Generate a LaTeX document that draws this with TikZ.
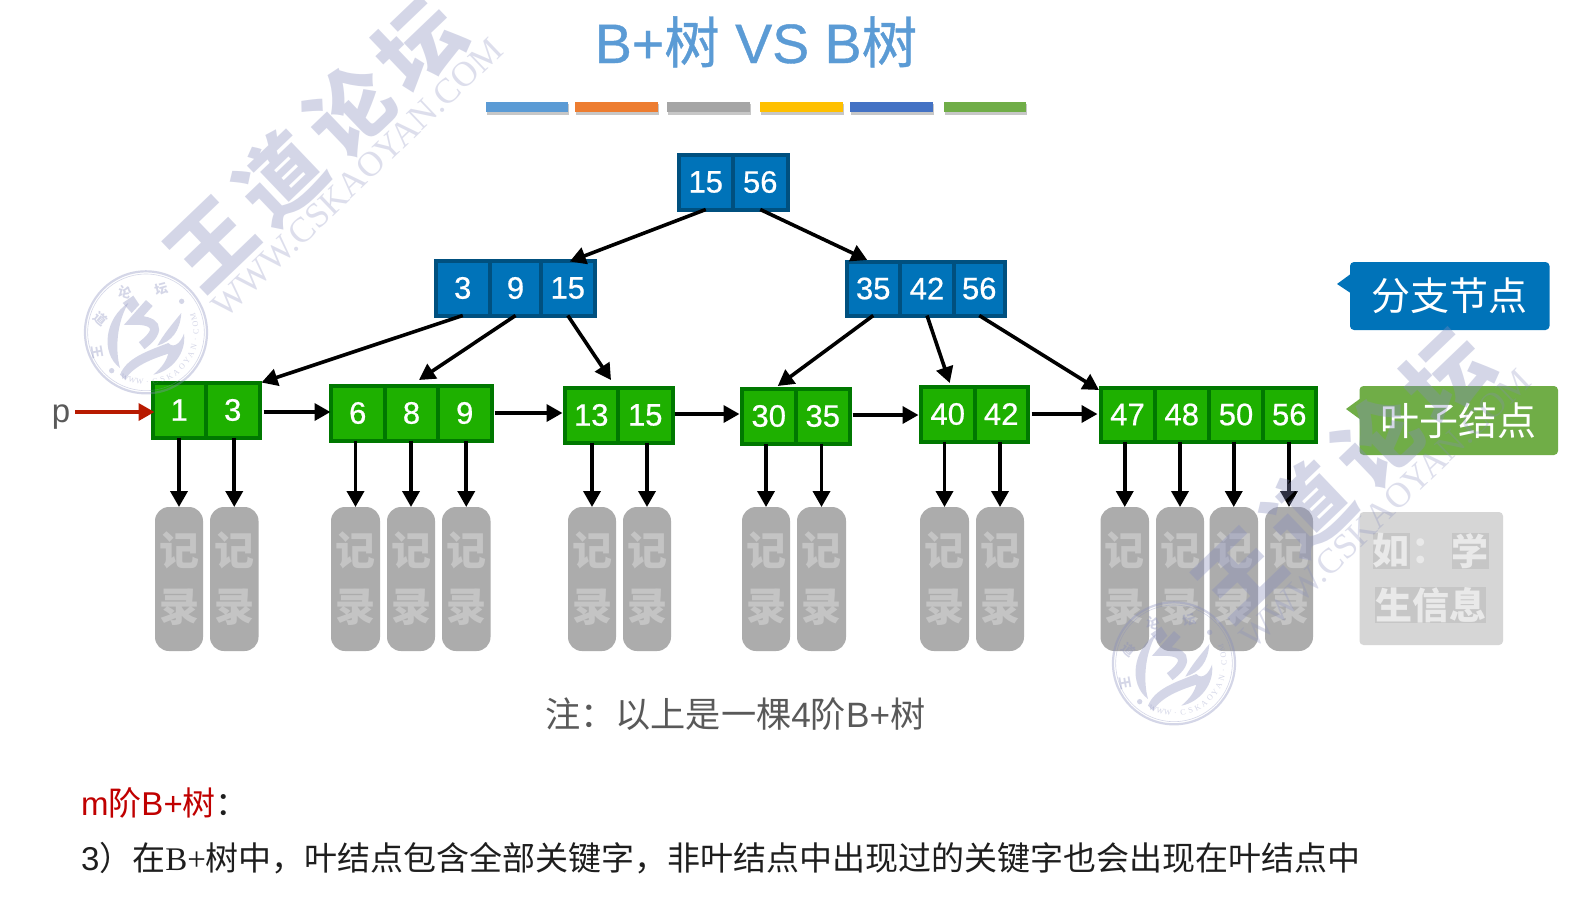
\documentclass[tikz,border=0pt]{standalone}
\usepackage{fontspec}
\setmainfont{Liberation Sans}
\newfontfamily\cjk{Noto Sans CJK SC}
\newfontfamily\lsr{Liberation Serif}
\newfontfamily\numf{Liberation Sans}[FakeBold=0.6]
\newfontfamily\ttl{Liberation Sans}[FakeBold=0.7]
\newfontfamily\ttlc{Noto Sans CJK SC}[FakeBold=0.7]
\usetikzlibrary{arrows.meta,calc}
\definecolor{blueF}{HTML}{0073B9}
\definecolor{blueD}{HTML}{00507F}
\definecolor{greenF}{HTML}{1EB000}
\definecolor{greenD}{HTML}{007800}
\definecolor{recF}{HTML}{ACACAC}
\definecolor{recT}{HTML}{C4C4C4}
\definecolor{infoF}{HTML}{D6D6D6}
\definecolor{infoP}{HTML}{C6C6C6}
\definecolor{infoT}{HTML}{E9E9E9}
\definecolor{greyT}{HTML}{595959}
\definecolor{bodyT}{HTML}{1E1E1E}
\definecolor{redT}{HTML}{C00000}
\definecolor{redA}{HTML}{B81A00}
\definecolor{wmC}{RGB}{134,140,189}
\definecolor{titleC}{RGB}{91,155,213}
\definecolor{labG}{RGB}{112,173,71}
\newcommand{\fsz}[1]{\fontsize{#1pt}{#1pt}\selectfont}
\tikzset{
  bluecell/.style={draw=blueD,fill=blueF,line width=4pt,inner sep=0pt,outer sep=0pt,text=white,font=\numf\fsz{31}},
  greencell/.style={draw=greenD,fill=greenF,line width=4pt,inner sep=0pt,outer sep=0pt,text=white,font=\numf\fsz{31}},
  recnode/.style={fill=recF,rounded corners=14pt,inner sep=0pt,outer sep=0pt,minimum height=144pt,text=recT,align=center,font=\cjk\bfseries\fsz{40}},
  arr/.style={line width=3.6pt,-{Triangle[length=16pt,width=17pt]}},
  redarr/.style={line width=3.6pt,draw=redA,-{Triangle[length=16pt,width=17pt,fill=redA]}},
  bar/.style={inner sep=0pt,outer sep=0pt,minimum height=10pt},
  barshadow/.style={fill=black!22},
  labelbox/.style={rounded corners=4pt,inner sep=0pt,outer sep=0pt,text=white,font=\cjk\fsz{39}},
  infopatch/.style={fill=infoP,inner sep=0pt,text=infoT,font=\cjk\bfseries\fsz{37}},
  plain/.style={inner sep=0pt,outer sep=0pt},
}
\newcommand{\kcell}[7]{%
  \pgfmathsetmacro\cw{#4-#3}\pgfmathsetmacro\ch{#6-#5}%
  \pgfmathsetmacro\cx{(#3+#4)/2}\pgfmathsetmacro\cy{(#5+#6)/2}%
  \node[#1,minimum width=\cw pt,minimum height=\ch pt] (#2) at (\cx,\cy) {\raisebox{-1.5pt}{#7}};}
\newcommand{\rec}[3]{%
  \pgfmathsetmacro\cw{#3-#2}\pgfmathsetmacro\cx{(#2+#3)/2}%
  \node[recnode,minimum width=\cw pt] (#1) at (\cx,579) {\raisebox{-1.5pt}{记}\\[16pt]\raisebox{-1.5pt}{录}};}
\newcommand{\wmark}[1]{%
  \node[plain,rotate=43.7,text=wmC,font=\cjk\bfseries\fsz{84}] (wmt#1) at (315,144)
    {王\hspace{12pt}道\hspace{12pt}论\hspace{12pt}坛};
  \node[plain,rotate=43.7,text=wmC,text opacity=.28,font=\lsr\fsz{35.3}] (wmw#1) at (357,178) {WWW.CSKAOYAN.COM};
  \begin{scope}[shift={(70,263)},x=0.3333pt,y=-0.3333pt]
    \draw[wmC,line width=2.2pt] (228,208) circle[radius=183pt/3];
    \draw[wmC,line width=0.6pt] (228,208) circle[radius=175pt/3];
    \fill[wmC] (175,120) .. controls (105,165) and (90,270) .. (150,315)
       .. controls (135,260) and (140,180) .. (175,120) -- cycle;
    \fill[wmC] (158,120) -- (190,98) -- (208,125) -- (185,150) -- cycle;
    \draw[wmC,line width=9pt] (238,120) -- (192,172) .. controls (250,170) and (285,195) .. (215,248);
    \fill[wmC] (334,150) .. controls (330,205) and (305,235) .. (262,248)
       .. controls (280,215) and (305,185) .. (334,150) -- cycle;
    \fill[wmC] (150,335) .. controls (170,285) and (230,265) .. (295,240)
       .. controls (312,258) and (332,240) .. (342,212)
       .. controls (350,270) and (305,325) .. (250,335)
       .. controls (280,310) and (290,290) .. (295,272)
       .. controls (240,290) and (190,310) .. (165,350) -- cycle;
    \fill[wmC] (125,323) circle[radius=8pt/3];
    \fill[wmC] (335,115) circle[radius=8pt/3];
    \node[plain,text=wmC,rotate=-80,font=\cjk\bfseries\fsz{13}] (wms1#1) at (82,268) {王};
    \node[plain,text=wmC,rotate=-40,font=\cjk\bfseries\fsz{13}] (wms2#1) at (92,168) {道};
    \node[plain,text=wmC,rotate=-15,font=\cjk\bfseries\fsz{13}] (wms3#1) at (165,88) {论};
    \node[plain,text=wmC,rotate=15,font=\cjk\bfseries\fsz{13}] (wms4#1) at (275,78) {坛};
    \foreach \c [count=\i] in {W,W,W,.,C,S,K,A,O,Y,A,N,.,C,O,M} {
      \pgfmathsetmacro\a{-115+8.87*(\i-1)}
      \pgfmathsetmacro\rt{\a+90}
      \node[plain,text=wmC,rotate=\rt,font=\lsr\fsz{8}] (wmc\i#1)
        at ({228+150*cos(\a)},{208-150*sin(\a)}) {\c};
    }
  \end{scope}}
\begin{document}
\begin{tikzpicture}[x=1pt,y=-1pt]
\useasboundingbox (0,0) rectangle (1582,900);
\fill[white] (0,0) rectangle (1582,900);
% title
\node[plain,anchor=base,text=titleC,font=\ttl\fsz{55.5}] (title) at (756,63)
  {B+{\ttlc 树} VS B{\ttlc 树}};
% colour bars
\foreach \xa/\xb/\col [count=\i] in {486/568/5B9BD5,575/658/ED7D31,667/750/A5A5A5,760/843/FFC000,850/933/4472C4,944/1026/70AD47}{
  \definecolor{barc}{HTML}{\col}
  \fill[barshadow] (\xa+1,104) rectangle (\xb+1,115);
  \pgfmathsetmacro\bw{\xb-\xa}\pgfmathsetmacro\bx{(\xa+\xb)/2}
  \node[bar,fill=barc,minimum width=\bw pt] (bar\i) at (\bx,107) {};
}
% keys
\kcell{bluecell}{r1}{678.5}{733}{154.5}{209.5}{15}
\kcell{bluecell}{r2}{733}{787.5}{154.5}{209.5}{56}
\kcell{bluecell}{la}{435.5}{490}{260.5}{315.5}{3}
\kcell{bluecell}{lb}{490}{541}{260.5}{315.5}{9}
\kcell{bluecell}{lc}{541}{594.5}{260.5}{315.5}{15}
\kcell{bluecell}{ma}{846.5}{900}{261.5}{315.5}{35}
\kcell{bluecell}{mb}{900}{954}{261.5}{315.5}{42}
\kcell{bluecell}{mc}{954}{1004.5}{261.5}{315.5}{56}
\kcell{greencell}{aa}{152.5}{206}{382.5}{437.5}{1}
\kcell{greencell}{ab}{206}{259.5}{382.5}{437.5}{3}
\kcell{greencell}{ba}{330.5}{385}{385.5}{440.5}{6}
\kcell{greencell}{bb}{385}{438}{385.5}{440.5}{8}
\kcell{greencell}{bc}{438}{491.5}{385.5}{440.5}{9}
\kcell{greencell}{ca}{564.5}{618}{387.5}{442.5}{13}
\kcell{greencell}{cb}{618}{672.5}{387.5}{442.5}{15}
\kcell{greencell}{da}{741.5}{796}{388.5}{443.5}{30}
\kcell{greencell}{db}{796}{849.5}{388.5}{443.5}{35}
\kcell{greencell}{ea}{920.5}{975}{386.5}{441.5}{40}
\kcell{greencell}{eb}{975}{1027.5}{386.5}{441.5}{42}
\kcell{greencell}{fa}{1100.5}{1154.5}{387.5}{441.5}{47}
\kcell{greencell}{fb}{1154.5}{1209}{387.5}{441.5}{48}
\kcell{greencell}{fc}{1209}{1263}{387.5}{441.5}{50}
\kcell{greencell}{fd}{1263}{1315.5}{387.5}{441.5}{56}
% records
\rec{raa}{155}{203}\rec{rab}{210}{258.5}
\rec{rba}{331}{380}\rec{rbb}{387}{435}\rec{rbc}{442}{490.5}
\rec{rca}{568}{616}\rec{rcb}{623}{671}
\rec{rda}{742}{790}\rec{rdb}{797}{846}
\rec{rea}{920}{969}\rec{reb}{976}{1024}
\rec{rfa}{1100.5}{1149}\rec{rfb}{1156}{1204}\rec{rfc}{1209.5}{1258}\rec{rfd}{1265}{1313}
% tree connectors (xshift, yshift are in page points, yshift up)
\draw[arr] (r1.south) -- ([xshift=2pt,yshift=-1pt]lc.north);
\draw[arr] (r2.south) -- ([xshift=-6pt,yshift=1.5pt]ma.north);
\draw[arr] (la.south) -- ([xshift=2pt]ab.north east);
\draw[arr] (lb.south) -- ([xshift=7.5pt,yshift=5.5pt]bb.north);
\draw[arr] (lc.south) -- ([xshift=-7pt,yshift=7.5pt]ca.north east);
\draw[arr] (ma.south) -- ([xshift=9pt,yshift=2.5pt]da.north);
\draw[arr] (mb.south) -- ([xshift=2pt,yshift=3.5pt]ea.north);
\draw[arr] (mc.south) -- ([xshift=-1.5pt,yshift=-2.5pt]fa.north west);
% leaf chain
\node[plain,anchor=base,text=greyT,font=\fsz{33}] (p) at (61,422) {p};
\draw[redarr] (p.east |- aa.west) ++(5,2) coordinate (pstart) -- ([xshift=2pt]pstart -| aa.west);
\draw[arr] ([xshift=4pt,yshift=-2pt]ab.east) -- ([yshift=-2pt]ab.east -| ba.west);
\draw[arr] ([xshift=3pt]bc.east) -- ([xshift=-2pt]bc.east -| ca.west);
\draw[arr] ([xshift=2pt,yshift=1pt]cb.east) -- ([yshift=1pt,xshift=-2pt]cb.east -| da.west);
\draw[arr] ([xshift=3pt,yshift=1pt]db.east) -- ([xshift=-2pt,yshift=1pt]db.east -| ea.west);
\draw[arr] ([xshift=4pt]eb.east) -- ([xshift=-3pt]eb.east -| fa.west);
% record connectors
\foreach \k/\r in {aa/raa,ab/rab,ba/rba,bb/rbb,bc/rbc,ca/rca,cb/rcb,da/rda,db/rdb,ea/rea,eb/reb,fa/rfa,fb/rfb,fc/rfc,fd/rfd}
  \draw[arr] (\k.south -| \r.north) -- (\r.north);
% labels
\node[labelbox,fill=blueF,minimum width=199.5pt,minimum height=68pt] (lab1) at (1449.75,296) {分支节点};
\fill[blueF] (1352,273) -- (1337,284) -- (1352,294) -- cycle;
\node[labelbox,fill=labG,minimum width=198.5pt,minimum height=69pt] (lab2) at (1458.75,420.5) {叶子结点};
\fill[labG] (1361,398) -- (1346,409) -- (1361,420) -- cycle;
% info box
\node[plain,fill=infoF,rounded corners=4pt,minimum width=143.5pt,minimum height=133pt] (info) at (1431.25,578.5) {};
\node[infopatch] (ia) at (1391,551) {如};
\node[plain,text=infoT,font=\cjk\bfseries\fsz{37}] (ib) at (1430,551) {：};
\node[infopatch] (ic) at (1470,551) {学};
\node[infopatch] (id) at (1430.5,605) {生信息};
% notes
\node[plain,anchor=base west,text=greyT,font=\fsz{35.2}] (note) at (545,727)
  {{\cjk 注：以上是一棵}4{\cjk 阶}B+{\cjk 树}};
\node[plain,anchor=base west,font=\fsz{33}] (head) at (81,815)
  {\textcolor{redT}{m{\cjk 阶}B+{\cjk 树}}{\color{bodyT}\cjk ：}};
\node[plain,anchor=base west,text=bodyT,font=\fsz{33}] (body) at (81,870)
  {3{\cjk ）在}{\lsr B+}{\cjk 树中，叶结点包含全部关键字，非叶结点中出现过的关键字也会出现在叶结点中}};
% watermarks
\begin{scope}
  \path[clip] (0,0) rectangle (1582,900);
  \begin{scope}[opacity=.35]
    \wmark{x}
  \end{scope}
  \begin{scope}[opacity=.35,shift={(1028,331)}]
    \wmark{y}
  \end{scope}
\end{scope}
\end{tikzpicture}
\end{document}
